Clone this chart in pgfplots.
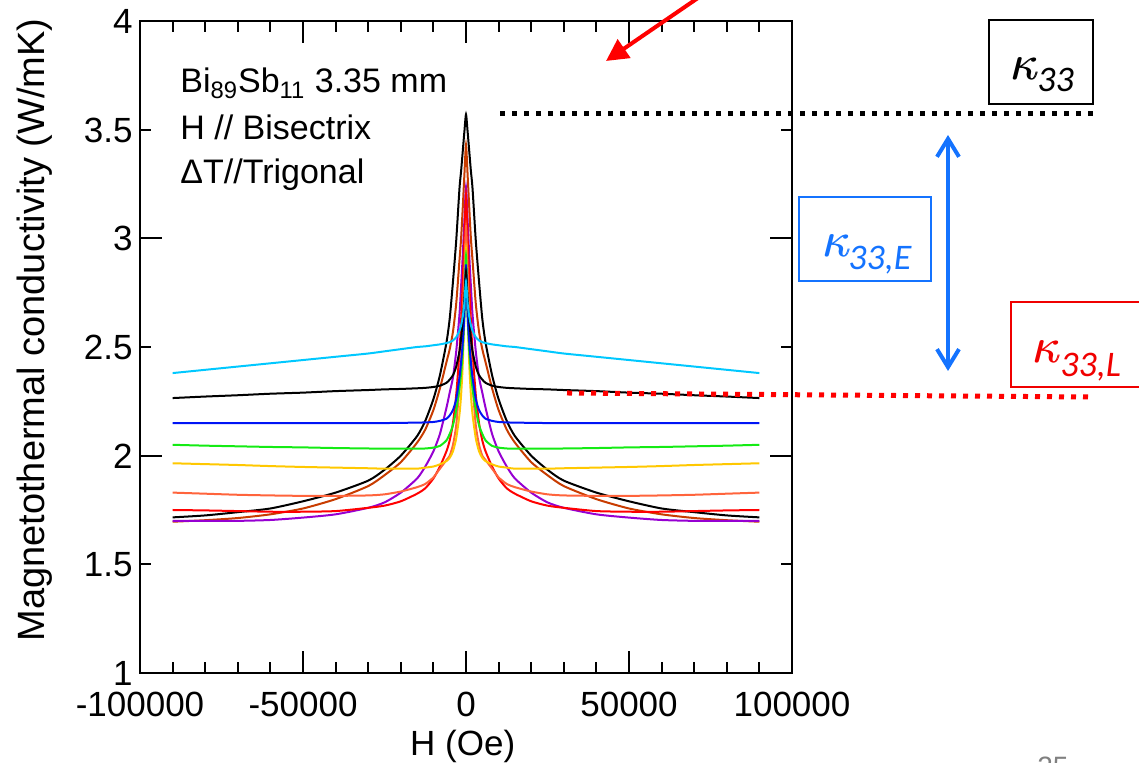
\documentclass[border=0pt]{standalone}
\usepackage{fontspec}
\setmainfont{Liberation Sans}
\newfontfamily\carlito{Carlito}
\usepackage{pgfplots}
\pgfplotsset{compat=1.18}
\usepackage{pgfplotstable}
\usetikzlibrary{arrows.meta}

\definecolor{ccyan}{RGB}{0,200,255}
\definecolor{cblue}{RGB}{0,20,245}
\definecolor{cgreen}{RGB}{20,235,20}
\definecolor{cyellow}{RGB}{255,200,0}
\definecolor{ccoral}{RGB}{255,100,60}
\definecolor{cred}{RGB}{255,0,0}
\definecolor{cbrown}{RGB}{200,60,0}
\definecolor{cpurple}{RGB}{150,0,210}
\definecolor{kblue}{RGB}{20,115,255}
\definecolor{kred}{RGB}{240,0,0}

\newcommand{\bkappa}{\fontsize{29}{32}\selectfont\rlap{$\kappa$}\kern0.45pt$\kappa$}

\pgfplotstableread{
H c k2 b g y o r kw br p
-90000 2.38 2.265 2.15 2.05 1.965 1.83 1.75 1.716 1.696 1.70
-80000 2.395 2.272 2.15 2.046 1.961 1.825 1.748 1.725 1.703 1.70
-70000 2.41 2.278 2.15 2.043 1.957 1.82 1.745 1.74 1.713 1.70
-60000 2.425 2.285 2.15 2.04 1.952 1.817 1.742 1.757 1.73 1.704
-50000 2.44 2.29 2.15 2.038 1.948 1.815 1.742 1.79 1.757 1.715
-40000 2.455 2.297 2.15 2.035 1.945 1.815 1.745 1.83 1.80 1.73
-30000 2.47 2.302 2.15 2.033 1.942 1.817 1.76 1.885 1.86 1.76
-25000 2.48 2.305 2.15 2.032 1.94 1.822 1.77 1.935 1.91 1.785
-20000 2.49 2.307 2.151 2.032 1.94 1.835 1.79 2.00 1.97 1.83
-15000 2.50 2.31 2.152 2.032 1.94 1.855 1.825 2.09 2.06 1.895
-12500 2.503 2.312 2.153 2.033 1.945 1.87 1.85 2.16 2.12 1.95
-10000 2.508 2.316 2.155 2.037 1.95 1.90 1.895 2.26 2.21 2.02
-8000 2.512 2.322 2.16 2.045 1.96 1.94 1.95 2.37 2.31 2.10
-6000 2.518 2.335 2.17 2.07 1.975 1.98 2.02 2.52 2.43 2.22
-5000 2.522 2.35 2.185 2.10 1.99 2.00 2.07 2.63 2.49 2.29
-4000 2.53 2.37 2.21 2.14 2.02 2.05 2.15 2.80 2.57 2.36
-3000 2.545 2.41 2.26 2.21 2.08 2.14 2.28 2.99 2.70 2.48
-2000 2.575 2.48 2.36 2.31 2.19 2.33 2.48 3.23 2.90 2.65
-1500 2.60 2.54 2.43 2.38 2.28 2.48 2.62 3.31 3.00 2.78
-1000 2.64 2.62 2.52 2.48 2.42 2.65 2.80 3.40 3.14 2.92
-500 2.70 2.72 2.65 2.65 2.65 2.85 3.00 3.49 3.29 3.08
0 2.80 2.845 2.88 2.92 2.95 3.05 3.20 3.57 3.43 3.235
500 2.70 2.72 2.65 2.65 2.65 2.85 3.00 3.49 3.29 3.08
1000 2.64 2.62 2.52 2.48 2.42 2.65 2.80 3.40 3.14 2.92
1500 2.60 2.54 2.43 2.38 2.28 2.48 2.62 3.31 3.00 2.78
2000 2.575 2.48 2.36 2.31 2.19 2.33 2.48 3.23 2.90 2.65
3000 2.545 2.41 2.26 2.21 2.08 2.14 2.28 2.99 2.70 2.48
4000 2.53 2.37 2.21 2.14 2.02 2.05 2.15 2.80 2.57 2.36
5000 2.522 2.35 2.185 2.10 1.99 2.00 2.07 2.63 2.49 2.29
6000 2.518 2.335 2.17 2.07 1.975 1.98 2.02 2.52 2.43 2.22
8000 2.512 2.322 2.16 2.045 1.96 1.94 1.95 2.37 2.31 2.10
10000 2.508 2.316 2.155 2.037 1.95 1.90 1.895 2.26 2.21 2.02
12500 2.503 2.312 2.153 2.033 1.945 1.87 1.85 2.16 2.12 1.95
15000 2.50 2.31 2.152 2.032 1.94 1.855 1.825 2.09 2.06 1.895
20000 2.49 2.307 2.151 2.032 1.94 1.835 1.79 2.00 1.97 1.83
25000 2.48 2.305 2.15 2.032 1.94 1.822 1.77 1.935 1.91 1.785
30000 2.47 2.302 2.15 2.033 1.942 1.817 1.76 1.885 1.86 1.76
40000 2.455 2.297 2.15 2.035 1.945 1.815 1.745 1.83 1.80 1.73
50000 2.44 2.29 2.15 2.038 1.948 1.815 1.742 1.79 1.757 1.715
60000 2.425 2.285 2.15 2.04 1.952 1.817 1.742 1.757 1.73 1.704
70000 2.41 2.278 2.15 2.043 1.957 1.82 1.745 1.74 1.713 1.70
80000 2.395 2.272 2.15 2.046 1.961 1.825 1.748 1.725 1.703 1.70
90000 2.38 2.265 2.15 2.05 1.965 1.83 1.75 1.716 1.696 1.70
}\data

\begin{document}
\begin{tikzpicture}
\useasboundingbox (0pt,0pt) rectangle (569.5pt,381.5pt);
\clip (0pt,0pt) rectangle (569.5pt,381.5pt);
\begin{axis}[
  at={(70pt,45pt)}, anchor=south west,
  scale only axis, width=326pt, height=326pt,
  xmin=-100000, xmax=100000, ymin=1, ymax=4,
  scaled x ticks=false,
  xtick={-100000,-50000,0,50000,100000},
  xticklabels={-100000,-50000,0,50000,100000},
  minor x tick num=4,
  ytick={1,2,3,4}, yticklabels={1,2,3,4},
  extra y ticks={1.5,2.5,3.5}, extra y tick labels={1.5,2.5,3.5},
  extra y tick style={major tick length=5.5pt},
  tick align=inside, major tick length=11pt, minor tick length=5.5pt,
  tick style={black, line width=1pt},
  axis line style={line width=1pt},
  ticklabel style={font=\fontsize{17.5}{20}\selectfont},
  xticklabel style={yshift=-6pt},
  yticklabel style={inner sep=1.5pt, xshift=-2pt, text height=12.5pt, text depth=0pt},
  xlabel={H (Oe)},
  ylabel={Magnetothermal conductivity (W/mK)},
  xlabel style={at={(axis description cs:0.495,-0.0874)}, anchor=north, inner sep=0pt, font=\fontsize{17.5}{20}\selectfont},
  ylabel style={at={(axis description cs:-0.161,0.526)}, anchor=center, inner sep=0pt, font=\fontsize{19}{22}\selectfont},
  every axis plot/.append style={line width=1pt, mark=none, smooth, tension=0.4},
]
\addplot[black] table[x=H,y=kw] {\data};
\addplot[cbrown] table[x=H,y=br] {\data};
\addplot[cpurple] table[x=H,y=p] {\data};
\addplot[cred] table[x=H,y=r] {\data};
\addplot[ccoral] table[x=H,y=o] {\data};
\addplot[cyellow] table[x=H,y=y] {\data};
\addplot[cgreen] table[x=H,y=g] {\data};
\addplot[cblue] table[x=H,y=b] {\data};
\addplot[black] table[x=H,y=k2] {\data};
\addplot[ccyan] table[x=H,y=c] {\data};
\end{axis}
\begin{scope}[x=0.5pt, y=-0.5pt, shift={(0pt,381.5pt)}]
  \begin{scope}[font=\fontsize{17}{20}\selectfont]
  \node[anchor=base west, inner sep=0pt] at (180,93) {Bi\textsubscript{89}Sb\textsubscript{11} 3.35 mm};
  \node[anchor=base west, inner sep=0pt] at (180,140) {H // Bisectrix};
  \node[anchor=base west, inner sep=0pt] at (180,184) {ΔT//Trigonal};
  \end{scope}
  % red arrow at top
  \draw[cred, line width=2pt, -{Triangle[length=11pt,width=11pt]}] (739.5,-30.5) -- (606,61);
  % dotted reference lines
  \draw[black, line width=2.5pt, dash pattern=on 2.5pt off 3.5pt] (500,114) -- (1093,114);
  \draw[cred, line width=2.5pt, dash pattern=on 2.5pt off 3.5pt] (567,393) -- (1090,397);
  % blue double arrow
  \draw[kblue, line width=2pt, {Straight Barb[length=9pt,width=11pt]}-{Straight Barb[length=9pt,width=11pt]}] (948,135) -- (948,371);
  % boxes
  \draw[black, line width=0.7pt] (989,20) rectangle (1093,104);
  \draw[kblue, line width=0.7pt] (799,197) rectangle (931,281);
  \draw[kred, line width=0.7pt] (1011,302) rectangle (1150,387);
  % kappa labels
  \node[anchor=base west, inner sep=0pt] at (1010,80) {\bkappa};
  \node[anchor=base west, inner sep=0pt] at (1037,92) {\carlito\itshape\fontsize{18}{20}\selectfont 33};
  \node[anchor=base west, inner sep=0pt, text=kblue] at (822,257) {\bkappa};
  \node[anchor=base west, inner sep=0pt, text=kblue] at (848,270) {\carlito\itshape\fontsize{18}{20}\selectfont 33,E};
  \node[anchor=base west, inner sep=0pt, text=kred] at (1032,363) {\bkappa};
  \node[anchor=base west, inner sep=0pt, text=kred] at (1060,377) {\carlito\itshape\fontsize{18}{20}\selectfont 33,L};
  % page number (cut off)
  \node[anchor=north west, inner sep=0pt, text=gray] at (1037,757) {\fontsize{14}{16}\selectfont 25};
\end{scope}
\end{tikzpicture}
\end{document}
